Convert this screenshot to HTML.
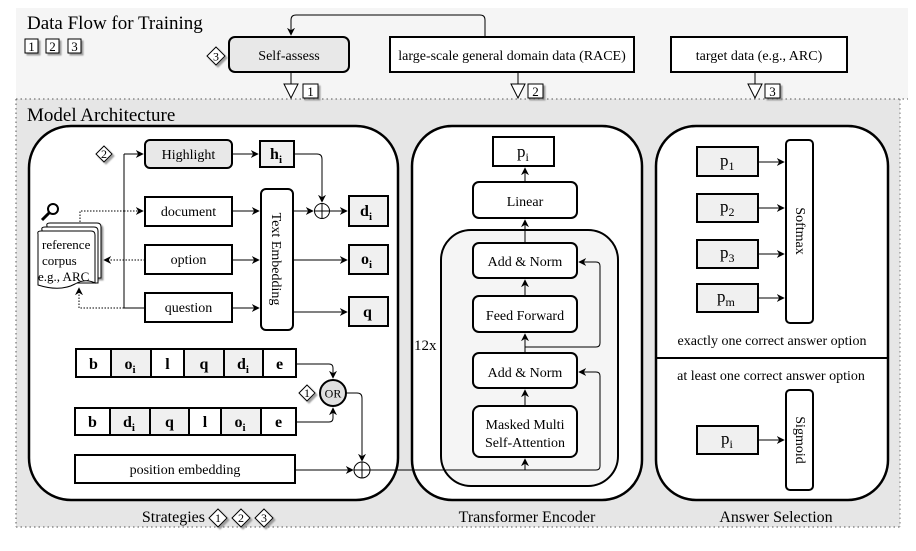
<!DOCTYPE html>
<html><head><meta charset="utf-8"><style>
html,body{margin:0;padding:0;background:#fff;}
svg, svg text{font-family:"Liberation Serif","DejaVu Serif","Times New Roman",serif !important;}
</style></head><body>
<svg width="916" height="546" viewBox="0 0 916 546" xmlns="http://www.w3.org/2000/svg" font-family="Liberation Serif, DejaVu Serif, serif">
<defs>
<marker id="a" viewBox="0 0 10 10" refX="9" refY="5" markerWidth="8" markerHeight="8" orient="auto-start-reverse"><path d="M0,0 L10,5 L0,10 L3,5 z" fill="#000"/></marker>
<filter id="sh" x="-20%" y="-20%" width="150%" height="150%"><feDropShadow dx="2" dy="2" stdDeviation="0.8" flood-color="#888" flood-opacity="0.8"/></filter>
</defs>
<rect x="16" y="8" width="892" height="91" fill="#f5f5f5"/>
<rect x="16" y="99" width="884" height="428" fill="#e6e6e6"/>
<line x1="16" y1="99" x2="908" y2="99" stroke="#555" stroke-dasharray="1.5,3"/>
<line x1="16" y1="99" x2="16" y2="527" stroke="#555" stroke-dasharray="1.5,3"/>
<line x1="16" y1="527" x2="900" y2="527" stroke="#555" stroke-dasharray="1.5,3"/>
<line x1="900" y1="99" x2="900" y2="527" stroke="#777" stroke-dasharray="1.5,3"/>

<text x="27" y="29" font-size="19">Data Flow for Training</text>
<g stroke="#000" stroke-width="1">
<rect x="25" y="39" width="13" height="14" fill="#fff" filter="url(#sh)"/>
<rect x="46" y="39" width="13" height="14" fill="#fff" filter="url(#sh)"/>
<rect x="68" y="39" width="13" height="14" fill="#fff" filter="url(#sh)"/>
</g>
<g font-size="13" text-anchor="middle"><text x="31.5" y="51">1</text><text x="52.5" y="51">2</text><text x="74.5" y="51">3</text></g>

<g filter="url(#sh)"><polygon points="216,47 225,56 216,65 207,56" fill="#fff" stroke="#000"/></g>
<text x="216" y="60.5" font-size="12" text-anchor="middle">3</text>
<rect x="229" y="37" width="120" height="35" rx="6" fill="#e8e8e8" stroke="#000" stroke-width="2"/>
<text x="289" y="60" font-size="14" text-anchor="middle">Self-assess</text>
<path d="M485,37 V20 Q485,15 480,15 H296 Q291,15 291,20 V35" fill="none" stroke="#000" marker-end="url(#a)"/>
<rect x="390" y="37" width="244" height="35" fill="#fff" stroke="#000" stroke-width="2"/>
<text x="512" y="60" font-size="14" text-anchor="middle">large-scale general domain data (RACE)</text>
<rect x="671" y="37" width="176" height="35" fill="#fff" stroke="#000" stroke-width="2"/>
<text x="759" y="60" font-size="14" text-anchor="middle">target data (e.g., ARC)</text>

<g stroke="#000" fill="#fff">
<line x1="291" y1="72" x2="291" y2="84"/><polygon points="284,84 298,84 291,98"/>
<line x1="518" y1="72" x2="518" y2="84"/><polygon points="511,84 525,84 518,98"/>
<line x1="755" y1="72" x2="755" y2="84"/><polygon points="748,84 762,84 755,98"/>
<rect x="303" y="84" width="15" height="14" filter="url(#sh)"/>
<rect x="528" y="84" width="15" height="14" filter="url(#sh)"/>
<rect x="765" y="84" width="15" height="14" filter="url(#sh)"/>
</g>
<g font-size="13" text-anchor="middle"><text x="310.5" y="96">1</text><text x="535.5" y="96">2</text><text x="772.5" y="96">3</text></g>

<text x="27" y="121" font-size="19">Model Architecture</text>

<rect x="29" y="126" width="369" height="374" rx="42" fill="#fff" stroke="#000" stroke-width="2.5"/>
<rect x="412" y="126" width="230" height="374" rx="40" fill="#fff" stroke="#000" stroke-width="2.5"/>
<rect x="656" y="126" width="232" height="374" rx="40" fill="#fff" stroke="#000" stroke-width="2.5"/>

<text x="205" y="522" font-size="16" text-anchor="end">Strategies</text>
<g filter="url(#sh)" fill="#fff" stroke="#000">
<polygon points="218,509 227,518 218,527 209,518"/>
<polygon points="241,509 250,518 241,527 232,518"/>
<polygon points="264,509 273,518 264,527 255,518"/>
</g>
<g font-size="12" text-anchor="middle"><text x="218" y="522">1</text><text x="241" y="522">2</text><text x="264" y="522">3</text></g>
<text x="527" y="522" font-size="16" text-anchor="middle">Transformer Encoder</text>
<text x="776" y="522" font-size="16" text-anchor="middle">Answer Selection</text>

<g filter="url(#sh)"><polygon points="104,146 112,154 104,162 96,154" fill="#fff" stroke="#000"/></g>
<text x="104" y="158" font-size="12" text-anchor="middle">2</text>
<g stroke="#000" fill="none">
<line x1="124" y1="154" x2="124" y2="308"/>
<line x1="124" y1="154" x2="143" y2="154" marker-end="url(#a)"/>
<line x1="124" y1="211" x2="143" y2="211" marker-end="url(#a)" stroke-dasharray="1.5,1.5"/>
<line x1="124" y1="308" x2="145" y2="308"/>
<line x1="232" y1="154" x2="258" y2="154" marker-end="url(#a)"/>
<line x1="232" y1="211" x2="259" y2="211" marker-end="url(#a)"/>
<line x1="232" y1="260" x2="259" y2="260" marker-end="url(#a)"/>
<line x1="232" y1="308" x2="259" y2="308" marker-end="url(#a)"/>
<line x1="293" y1="211" x2="313" y2="211" marker-end="url(#a)"/>
<line x1="329" y1="211" x2="347" y2="211" marker-end="url(#a)"/>
<line x1="293" y1="260" x2="347" y2="260" marker-end="url(#a)"/>
<line x1="293" y1="312" x2="347" y2="312" marker-end="url(#a)"/>
<path d="M294,154 H317 Q322,154 322,159 V202" marker-end="url(#a)"/>
<circle cx="322" cy="211" r="7.5" fill="#fff"/>
<line x1="314.5" y1="211" x2="329.5" y2="211"/><line x1="322" y1="203.5" x2="322" y2="218.5"/>
<path d="M80,225 V211 H124" stroke-dasharray="1.5,1.5"/>
<line x1="145" y1="260" x2="104" y2="260" stroke-dasharray="1.5,1.5" marker-end="url(#a)"/>
<path d="M124,308 H79 V288" stroke-dasharray="1.5,1.5" marker-end="url(#a)"/>
</g>
<g stroke="#000" fill="#fff" stroke-width="1">
<path d="M47,226 Q46,223 50,223 H97 Q101,223 101,227 V278 H47 Z" filter="url(#sh)"/>
<path d="M42,230 Q41,227 45,227 H94 Q98,227 98,231 V283 H42 Z"/>
<path d="M38,234 Q37,231 41,231 H91 Q95,231 95,235 V283 Q85,278 75,284 Q60,292 38,285 Z"/>
<circle cx="53" cy="209" r="5" stroke-width="2"/>
<line x1="49" y1="213" x2="42" y2="220" stroke-width="3"/>
</g>
<g font-size="13"><text x="42" y="249">reference</text><text x="42" y="265">corpus</text><text x="38" y="281">e.g., ARC</text></g>

<rect x="145" y="140" width="87" height="28" rx="5" fill="#e8e8e8" stroke="#000" stroke-width="2"/>
<text x="188.5" y="159" font-size="14" text-anchor="middle">Highlight</text>
<rect x="260" y="141" width="34" height="26" fill="#f0f0f0" stroke="#000" stroke-width="2"/>
<text x="270" y="159" font-size="16" font-weight="bold">h</text><text x="279" y="163" font-size="11" font-weight="bold">i</text>
<g fill="#fff" stroke="#000" stroke-width="2">
<rect x="145" y="197" width="87" height="29"/>
<rect x="145" y="245" width="87" height="29"/>
<rect x="145" y="293" width="87" height="29"/>
<rect x="261" y="189" width="32" height="141" rx="5"/>
</g>
<g font-size="14" text-anchor="middle"><text x="188.5" y="216">document</text><text x="188.5" y="264">option</text><text x="188.5" y="312">question</text></g>
<text transform="translate(272,259) rotate(90)" font-size="14" text-anchor="middle">Text Embedding</text>
<g fill="#f0f0f0" stroke="#000" stroke-width="2">
<rect x="349" y="196" width="39" height="30"/>
<rect x="349" y="245" width="39" height="29"/>
<rect x="349" y="297" width="39" height="29"/>
</g>
<g font-size="16" font-weight="bold">
<text x="360" y="216">d</text><text x="369" y="220" font-size="11">i</text>
<text x="361" y="264">o</text><text x="369" y="268" font-size="11">i</text>
<text x="363" y="317">q</text>
</g>

<g stroke="#000" stroke-width="2">
<rect x="76" y="349" width="35" height="28" fill="#fff"/><rect x="111" y="349" width="40" height="28" fill="#f0f0f0"/>
<rect x="151" y="349" width="33" height="28" fill="#fff"/><rect x="184" y="349" width="40" height="28" fill="#f0f0f0"/>
<rect x="224" y="349" width="39" height="28" fill="#f0f0f0"/><rect x="263" y="349" width="33" height="28" fill="#fff"/>
<rect x="75" y="408" width="35" height="27" fill="#fff"/><rect x="110" y="408" width="40" height="27" fill="#f0f0f0"/>
<rect x="150" y="408" width="39" height="27" fill="#f0f0f0"/><rect x="189" y="408" width="32" height="27" fill="#fff"/>
<rect x="221" y="408" width="40" height="27" fill="#f0f0f0"/><rect x="261" y="408" width="35" height="27" fill="#fff"/>
<rect x="75" y="455" width="220" height="28" fill="#fff"/>
</g>
<g font-size="16" font-weight="bold" text-anchor="middle">
<text x="93.5" y="369">b</text><text x="130" y="369">o<tspan font-size="11" dy="4">i</tspan></text><text x="167.5" y="369">l</text>
<text x="204" y="369">q</text><text x="243" y="369">d<tspan font-size="11" dy="4">i</tspan></text><text x="279.5" y="369">e</text>
<text x="92.5" y="427">b</text><text x="129" y="427">d<tspan font-size="11" dy="4">i</tspan></text><text x="169.5" y="427">q</text>
<text x="205" y="427">l</text><text x="240" y="427">o<tspan font-size="11" dy="4">i</tspan></text><text x="278.5" y="427">e</text>
</g>
<text x="185" y="474" font-size="14" text-anchor="middle">position embedding</text>
<g stroke="#000" fill="none">
<path d="M296,364 H329 Q333,364 333,368 V378" marker-end="url(#a)"/>
<path d="M296,422 H329 Q333,422 333,418 V408" marker-end="url(#a)"/>
<path d="M346,393 H357 Q362,393 362,398 V461" marker-end="url(#a)"/>
<line x1="295" y1="470" x2="353" y2="470" marker-end="url(#a)"/>
<circle cx="362" cy="470" r="8" fill="#fff"/>
<line x1="354" y1="470" x2="370" y2="470"/><line x1="362" y1="462" x2="362" y2="478"/>
<line x1="370" y1="470" x2="525" y2="470"/>
</g>
<circle cx="333" cy="393" r="13" fill="#e0e0e0" stroke="#000" stroke-width="2"/>
<text x="333" y="397.5" font-size="12" text-anchor="middle">OR</text>
<g filter="url(#sh)"><polygon points="307,385 315,393 307,401 299,393" fill="#fff" stroke="#000"/></g>
<text x="307" y="397" font-size="12" text-anchor="middle">1</text>

<rect x="441" y="230" width="177" height="256" rx="30" fill="#f5f5f5" stroke="#000" stroke-width="2"/>
<line x1="412" y1="470" x2="441" y2="470" stroke="#000"/>
<text x="414" y="350" font-size="15">12x</text>
<rect x="493" y="137" width="61" height="29" fill="#fff" stroke="#000" stroke-width="2"/>
<text x="517" y="157" font-size="17">p<tspan font-size="12" dy="4">i</tspan></text>
<g fill="#fff" stroke="#000" stroke-width="2">
<rect x="473" y="182" width="104" height="36" rx="6"/>
<rect x="473" y="243" width="104" height="35" rx="6"/>
<rect x="473" y="296" width="104" height="36" rx="6"/>
<rect x="473" y="353" width="104" height="35" rx="6"/>
<rect x="473" y="406" width="104" height="51" rx="7"/>
</g>
<g font-size="14" text-anchor="middle">
<text x="525" y="206">Linear</text><text x="525" y="266">Add &amp; Norm</text><text x="525" y="320">Feed Forward</text>
<text x="525" y="377">Add &amp; Norm</text><text x="525" y="429">Masked Multi</text><text x="525" y="447">Self-Attention</text>
</g>
<g stroke="#000" fill="none">
<line x1="525" y1="182" x2="525" y2="168" marker-end="url(#a)"/>
<line x1="525" y1="243" x2="525" y2="220" marker-end="url(#a)"/>
<line x1="525" y1="296" x2="525" y2="280" marker-end="url(#a)"/>
<line x1="525" y1="353" x2="525" y2="334" marker-end="url(#a)"/>
<line x1="525" y1="406" x2="525" y2="390" marker-end="url(#a)"/>
<line x1="441" y1="470" x2="525" y2="470"/>
<line x1="525" y1="470" x2="525" y2="459" marker-end="url(#a)"/>
<path d="M525,470 H596 Q600,470 600,466 V376 Q600,372 596,372 H579" marker-end="url(#a)"/>
<path d="M525,347 H596 Q600,347 600,343 V266 Q600,262 596,262 H579" marker-end="url(#a)"/>
</g>

<line x1="656" y1="358" x2="888" y2="358" stroke="#000" stroke-width="2"/>
<g fill="#fff" stroke="#000" stroke-width="2">
<rect x="786" y="140" width="27" height="183" rx="4"/>
<rect x="786" y="390" width="27" height="100" rx="4"/>
</g>
<text transform="translate(796,231) rotate(90)" font-size="14" text-anchor="middle">Softmax</text>
<text transform="translate(796,440) rotate(90)" font-size="14" text-anchor="middle">Sigmoid</text>
<g fill="#f0f0f0" stroke="#000" stroke-width="2">
<rect x="697" y="147" width="61" height="29"/><rect x="697" y="194" width="61" height="28"/>
<rect x="697" y="240" width="61" height="28"/><rect x="697" y="284" width="61" height="28"/>
<rect x="697" y="426" width="61" height="28"/>
</g>
<g font-size="17">
<text x="720" y="166">p<tspan font-size="12" dy="4">1</tspan></text>
<text x="720" y="212">p<tspan font-size="12" dy="4">2</tspan></text>
<text x="720" y="258">p<tspan font-size="12" dy="4">3</tspan></text>
<text x="717" y="302">p<tspan font-size="12" dy="4">m</tspan></text>
<text x="721" y="444">p<tspan font-size="12" dy="4">i</tspan></text>
</g>
<g stroke="#000">
<line x1="758" y1="162" x2="784" y2="162" marker-end="url(#a)"/>
<line x1="758" y1="208" x2="784" y2="208" marker-end="url(#a)"/>
<line x1="758" y1="254" x2="784" y2="254" marker-end="url(#a)"/>
<line x1="758" y1="298" x2="784" y2="298" marker-end="url(#a)"/>
<line x1="758" y1="440" x2="784" y2="440" marker-end="url(#a)"/>
</g>
<text x="772" y="345" font-size="14" text-anchor="middle">exactly one correct answer option</text>
<text x="771" y="380" font-size="14" text-anchor="middle">at least one correct answer option</text>
</svg>
</body></html>
